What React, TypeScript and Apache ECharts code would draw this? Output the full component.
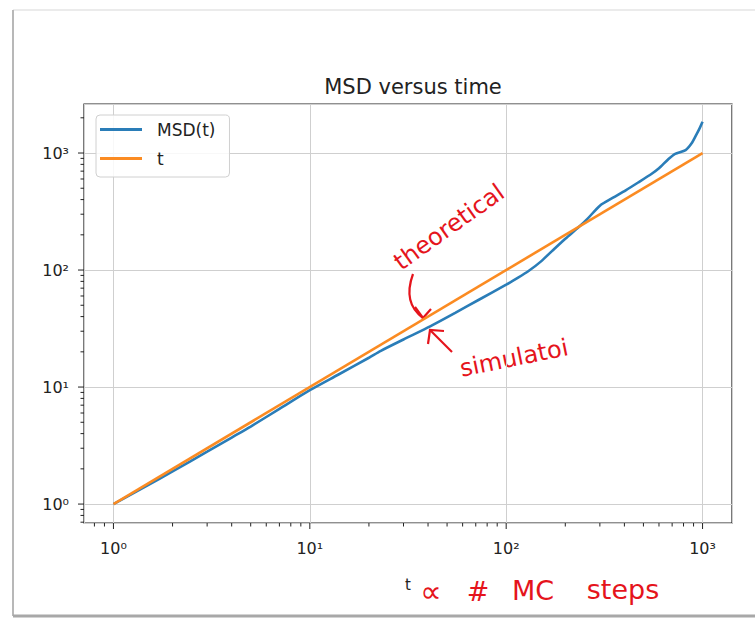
import React, { useEffect, useRef } from "react";
import * as echarts from "echarts";

// ---- data ----
const msdT = [1, 1.5, 2, 3, 4, 5, 7, 10, 14, 20, 23, 30, 41, 55, 73, 100, 115, 131, 150, 171, 200, 235, 260, 300, 350, 406, 470, 551, 600, 671, 725, 820, 880, 933, 970, 1000];
const msdV = [1, 1.45, 1.9, 2.8, 3.7, 4.6, 6.5, 9.4, 12.8, 17.8, 20.4, 25.5, 33, 43, 56, 75, 86, 99, 118, 145, 185, 234, 275, 355, 415, 480, 560, 665, 740, 890, 985, 1060, 1210, 1450, 1650, 1850];
const lineT = [1, 1000];
const lineV = [1, 1000];

const seriesNames = ["MSD(t)", "t"];
const titleText = "MSD versus time";
const xLabel = "t";
const superscripts = ["⁰", "¹", "²", "³", "⁴"];

const xMin = 0.708;
const xMax = 1412.5;
const yMin = 0.689;
const yMax = 2624;

const decadeMultipliers = [2, 3, 4, 5, 6, 7, 8, 9];
const majorTicks = [1, 10, 100, 1000];

function minorTicks(lo: number, hi: number): number[] {
  const out: number[] = [];
  for (let d = 0.1; d <= 1000; d *= 10) {
    for (const m of decadeMultipliers) {
      const v = +(m * d).toPrecision(6);
      if (v >= lo && v <= hi) out.push(v);
    }
  }
  return out;
}

const RED = "#e5141c";
const INK = "#222222";

export default function App() {
  const ref = useRef<HTMLDivElement>(null);

  useEffect(() => {
    if (!ref.current) return;
    const chart = echarts.init(ref.current, undefined, { renderer: "svg" });

    const xTicks = [
      ...majorTicks.map((v) => [v, 1, 6]),
      ...minorTicks(xMin, xMax).map((v) => [v, 1, 3.5]),
    ];
    const yTicks = [
      ...majorTicks.map((v) => [1, v, 6]),
      ...minorTicks(yMin, yMax).map((v) => [1, v, 3.5]),
    ];

    const fmt = (v: number) => {
      const l = Math.log10(v);
      const r = Math.round(l);
      if (Math.abs(l - r) > 1e-6 || r < 0) return "";
      return "10" + superscripts[r];
    };

    const option: any = {
      animation: false,
      backgroundColor: "#ffffff",
      title: {
        text: titleText,
        left: 408,
        textAlign: "center",
        top: 71,
        textStyle: { fontFamily: "DejaVu Sans", fontSize: 21, fontWeight: "normal", color: INK },
      },
      legend: {
        data: seriesNames,
        orient: "vertical",
        left: 96,
        top: 115,
        padding: [6, 14, 10, 4],
        itemGap: 12,
        itemWidth: 42,
        itemHeight: 3,
        icon: "rect",
        backgroundColor: "rgba(255,255,255,0.85)",
        borderColor: "#d0d0d0",
        borderWidth: 1,
        borderRadius: 4,
        textStyle: { fontFamily: "DejaVu Sans", fontSize: 17, color: INK, padding: [0, 0, 0, 10] },
      },
      grid: {
        left: 84,
        top: 104,
        right: 23,
        bottom: 96,
        show: true,
        borderColor: INK,
        borderWidth: 1.2,
        containLabel: false,
      },
      xAxis: {
        type: "log",
        logBase: 10,
        min: xMin,
        max: xMax,
        name: xLabel,
        nameLocation: "middle",
        nameGap: 54,
        nameTextStyle: { fontFamily: "DejaVu Sans", fontSize: 15, color: INK },
        axisLine: { show: false },
        axisTick: { show: false },
        axisLabel: { formatter: fmt, margin: 17, fontFamily: "DejaVu Sans", fontSize: 16, color: INK },
        splitLine: { show: true, lineStyle: { color: "#cfcfcf", width: 1 } },
      },
      yAxis: {
        type: "log",
        logBase: 10,
        min: yMin,
        max: yMax,
        axisLine: { show: false },
        axisTick: { show: false },
        axisLabel: { formatter: fmt, margin: 15, fontFamily: "DejaVu Sans", fontSize: 16, color: INK },
        splitLine: { show: true, lineStyle: { color: "#cfcfcf", width: 1 } },
      },
      series: [
        {
          name: seriesNames[0],
          type: "line",
          data: msdT.map((t, i) => [t, msdV[i]]),
          showSymbol: false,
          symbol: "none",
          smooth: 0.25,
          lineStyle: { color: "#2a7db8", width: 2.6 },
          itemStyle: { color: "#2a7db8" },
          z: 3,
        },
        {
          name: seriesNames[1],
          type: "line",
          data: lineT.map((t, i) => [t, lineV[i]]),
          showSymbol: false,
          symbol: "none",
          lineStyle: { color: "#fb8b22", width: 2.6 },
          itemStyle: { color: "#fb8b22" },
          z: 4,
        },
        {
          type: "custom",
          silent: true,
          data: xTicks,
          z: 5,
          renderItem: (params: any, api: any) => {
            const p = api.coord([api.value(0), api.value(1)]);
            const cs = params.coordSys;
            const bottom = cs.y + cs.height;
            return {
              type: "line",
              shape: { x1: p[0], y1: bottom, x2: p[0], y2: bottom + api.value(2) },
              style: { stroke: INK, lineWidth: 1 },
            };
          },
        },
        {
          type: "custom",
          silent: true,
          data: yTicks,
          z: 5,
          renderItem: (params: any, api: any) => {
            const p = api.coord([api.value(0), api.value(1)]);
            const cs = params.coordSys;
            const left = cs.x;
            return {
              type: "line",
              shape: { x1: left, y1: p[1], x2: left - api.value(2), y2: p[1] },
              style: { stroke: INK, lineWidth: 1 },
            };
          },
        },
      ],
      graphic: [
        // screenshot frame
        { type: "line", silent: true, shape: { x1: 13, y1: 10, x2: 755, y2: 10 }, style: { stroke: "#ebebeb", lineWidth: 2 } },
        { type: "line", silent: true, shape: { x1: 13, y1: 10, x2: 13, y2: 616 }, style: { stroke: "#b8b8b8", lineWidth: 2 } },
        { type: "line", silent: true, shape: { x1: 13, y1: 616, x2: 755, y2: 616 }, style: { stroke: "#a8a8a8", lineWidth: 3 } },
        // handwritten annotations
        {
          type: "text",
          x: 449,
          y: 227,
          rotation: 0.62,
          style: { text: "theoretical", fill: RED, fontFamily: "DejaVu Sans", fontSize: 24, textAlign: "center", textVerticalAlign: "middle" },
        },
        {
          type: "bezierCurve",
          shape: { x1: 413, y1: 274, cpx1: 405, cpy1: 296, cpx2: 412, cpy2: 310, x2: 423, y2: 318 },
          style: { stroke: RED, lineWidth: 2.2, fill: "none" },
        },
        {
          type: "polyline",
          shape: { points: [[415, 307], [423, 318], [431, 309]] },
          style: { stroke: RED, lineWidth: 2.2, fill: "none" },
        },
        {
          type: "line",
          shape: { x1: 452, y1: 352, x2: 430, y2: 330 },
          style: { stroke: RED, lineWidth: 2.2 },
        },
        {
          type: "polyline",
          shape: { points: [[428, 344], [430, 330], [444, 331]] },
          style: { stroke: RED, lineWidth: 2.2, fill: "none" },
        },
        {
          type: "text",
          x: 514,
          y: 358,
          rotation: 0.2,
          style: { text: "simulatoi", fill: RED, fontFamily: "DejaVu Sans", fontSize: 24, textAlign: "center", textVerticalAlign: "middle" },
        },
        {
          type: "text",
          x: 431,
          y: 591,
          style: { text: "∝", fill: RED, fontFamily: "DejaVu Sans", fontSize: 30, textAlign: "center", textVerticalAlign: "middle" },
        },
        {
          type: "text",
          x: 478,
          y: 591,
          style: { text: "#", fill: RED, fontFamily: "DejaVu Sans", fontSize: 27, textAlign: "center", textVerticalAlign: "middle" },
        },
        {
          type: "text",
          x: 533,
          y: 590,
          style: { text: "MC", fill: RED, fontFamily: "DejaVu Sans", fontSize: 27, textAlign: "center", textVerticalAlign: "middle" },
        },
        {
          type: "text",
          x: 623,
          y: 589,
          style: { text: "steps", fill: RED, fontFamily: "DejaVu Sans", fontSize: 27, textAlign: "center", textVerticalAlign: "middle" },
        },
      ],
    };

    chart.setOption(option);
    return () => chart.dispose();
  }, []);

  return (
    <div
      ref={ref}
      style={{ position: "absolute", left: 0, top: 0, width: 755, height: 619, background: "#fff" }}
    />
  );
}
